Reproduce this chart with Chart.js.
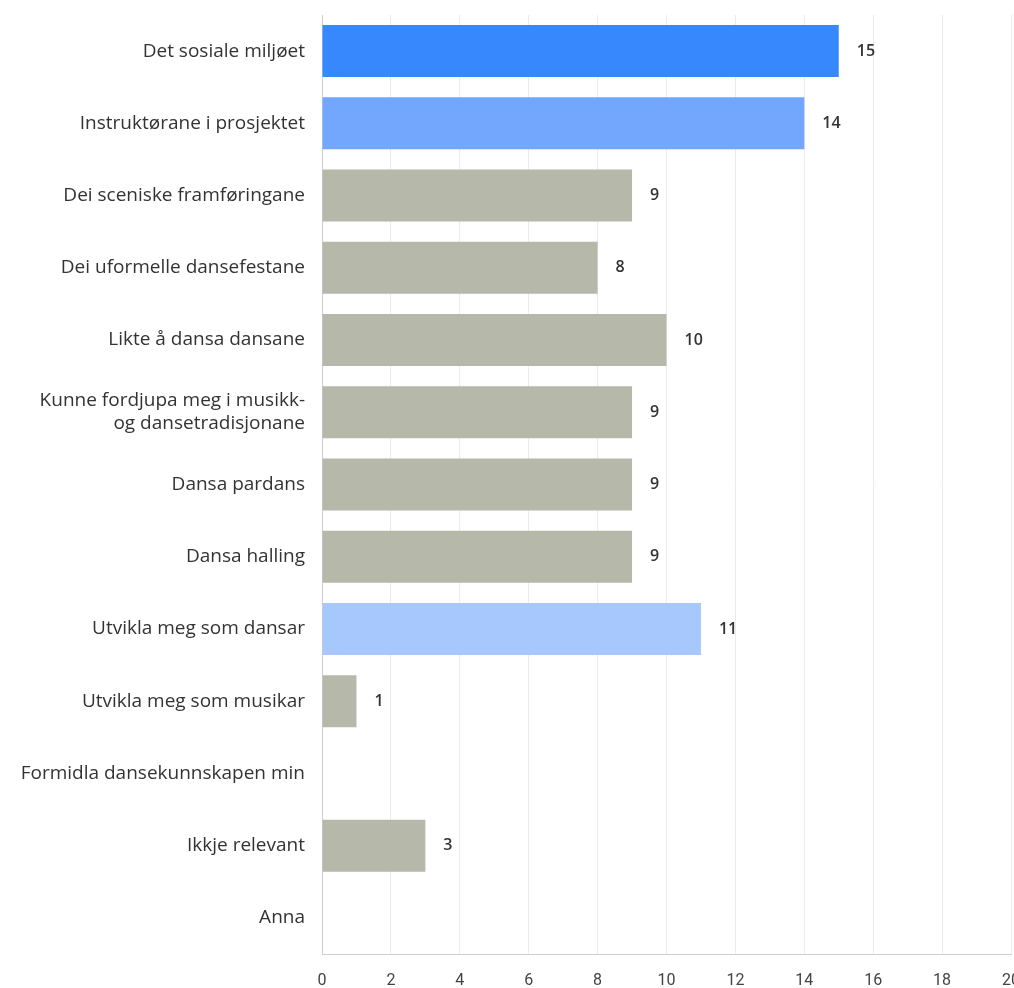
<!DOCTYPE html>
<html>
<head>
<meta charset="utf-8">
<script src="https://cdn.jsdelivr.net/npm/chart.js@4"></script>
<style>
  html, body { margin: 0; padding: 0; background: #fff; }
  #wrap { width: 1014px; height: 988px; position: relative; }
</style>
</head>
<body>
<div id="wrap"><canvas id="chart"></canvas></div>
<script>
const categories = [
  "Det sosiale miljøet",
  "Instruktørane i prosjektet",
  "Dei sceniske framføringane",
  "Dei uformelle dansefestane",
  "Likte å dansa dansane",
  ["Kunne fordjupa meg i musikk-", "og dansetradisjonane"],
  "Dansa pardans",
  "Dansa halling",
  "Utvikla meg som dansar",
  "Utvikla meg som musikar",
  "Formidla dansekunnskapen min",
  "Ikkje relevant",
  "Anna"
];
const values = [15, 14, 9, 8, 10, 9, 9, 9, 11, 1, 0, 3, 0];
const barColors = ["#3888fd", "#72a7fd", "#b6b8aa", "#b6b8aa", "#b6b8aa", "#b6b8aa", "#b6b8aa", "#b6b8aa", "#a7c8fd", "#b6b8aa", "#b6b8aa", "#b6b8aa", "#b6b8aa"];
const xTicks = [0, 2, 4, 6, 8, 10, 12, 14, 16, 18, 20];

// value labels right of each bar (empty categories get none)
const valueLabels = {
  id: "valueLabels",
  afterDatasetsDraw(chart) {
    const ctx = chart.ctx;
    const meta = chart.getDatasetMeta(0);
    ctx.save();
    ctx.font = "600 16px 'Open Sans'";
    ctx.fillStyle = "#333";
    ctx.textAlign = "left";
    ctx.textBaseline = "middle";
    meta.data.forEach((bar, i) => {
      if (!values[i]) return;
      ctx.fillText(String(values[i]), bar.x + 18, bar.y);
    });
    ctx.restore();
  }
};

new Chart(document.getElementById("chart").getContext("2d"), {
  type: "bar",
  data: { labels: categories, datasets: [{ data: values, backgroundColor: barColors, barPercentage: 0.72, categoryPercentage: 1 }] },
  options: {
    indexAxis: "y",
    responsive: true,
    maintainAspectRatio: false,
    animation: false,
    layout: { padding: { top: 15, right: 3, left: 0, bottom: 0 } },
    plugins: { legend: { display: false }, tooltip: { enabled: false } },
    scales: {
      x: {
        min: 0, max: 20,
        afterBuildTicks: s => { s.ticks = xTicks.map(v => ({ value: v })); },
        afterFit: s => { s.height = 34; s.paddingLeft = 0; s.paddingRight = 0; },
        grid: { color: "#ebebeb", drawTicks: false },
        border: { color: "#cfcfcf" },
        ticks: { color: "#444", font: { family: "'Liberation Sans Narrow', Roboto", size: 16 }, padding: 17 }
      },
      y: {
        afterFit: s => { s.width = 322; s.paddingTop = 0; s.paddingBottom = 0; },
        grid: { display: false, drawTicks: false },
        border: { color: "#cfcfcf" },
        ticks: { color: "#333", font: { family: "Open Sans", size: 19 }, padding: 17 }
      }
    }
  },
  plugins: [valueLabels]
});
</script>
</body>
</html>
